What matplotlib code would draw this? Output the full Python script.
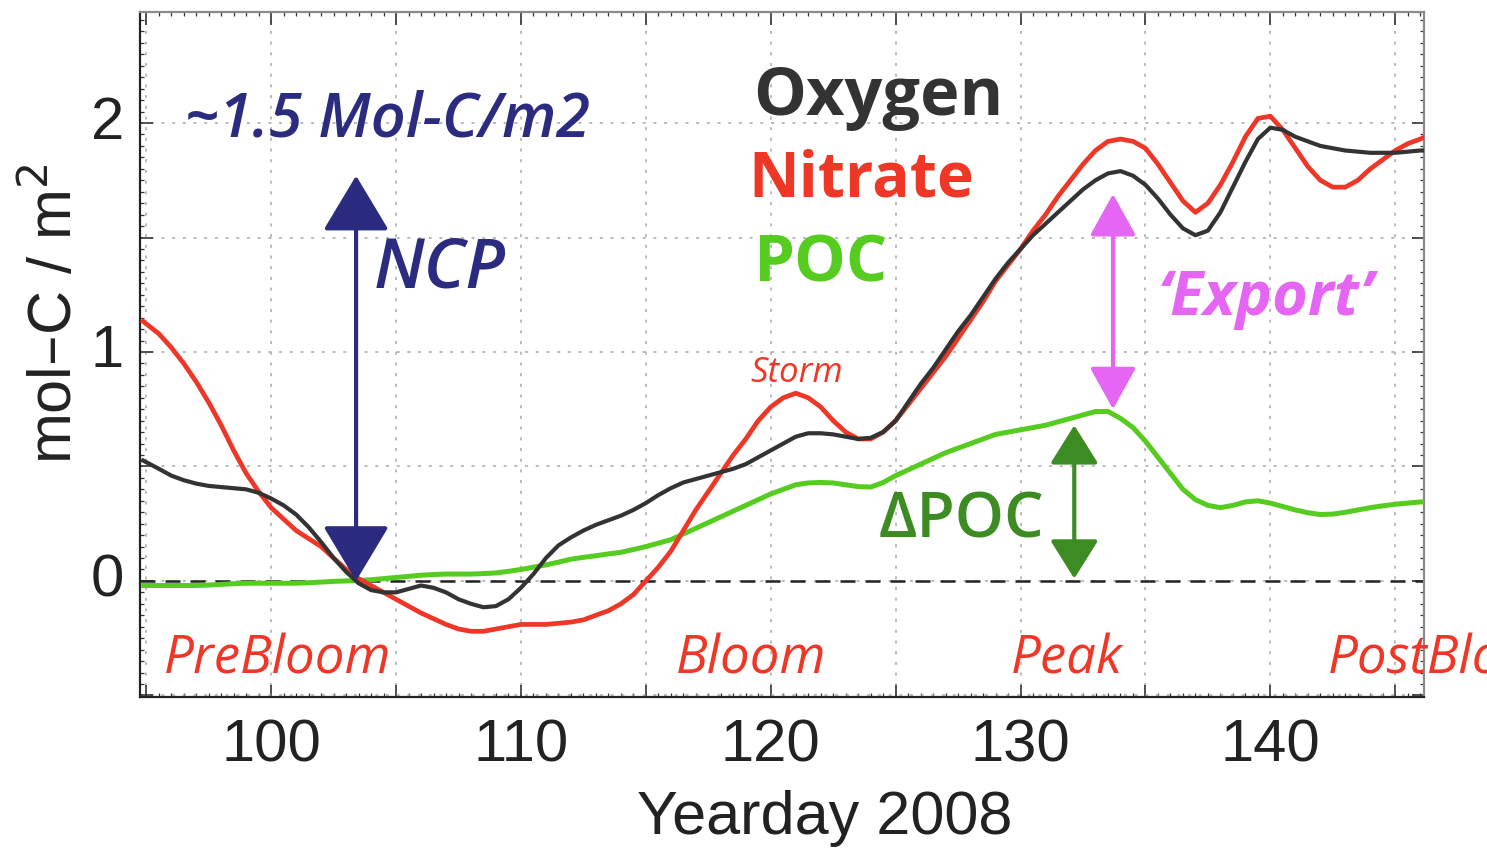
import numpy as np
import matplotlib.pyplot as plt
from matplotlib.ticker import MultipleLocator

# yearday sample points (half-day steps)
days = [94.8] + list(np.arange(95.5, 146.5, 0.5)) + [146.2]

# carbon inventories, mol-C / m2
oxygen = [0.53, 0.49, 0.46, 0.44, 0.425, 0.415, 0.41, 0.405, 0.40, 0.385,
          0.36, 0.33, 0.29, 0.235, 0.17, 0.10, 0.04, -0.01, -0.04, -0.05,
          -0.05, -0.035, -0.02, -0.03, -0.05, -0.08, -0.10, -0.115, -0.11, -0.08,
          -0.03, 0.03, 0.10, 0.155, 0.19, 0.22, 0.245, 0.265, 0.285, 0.31,
          0.34, 0.375, 0.405, 0.43, 0.445, 0.46, 0.475, 0.49, 0.51, 0.54,
          0.57, 0.60, 0.63, 0.645, 0.645, 0.64, 0.63, 0.62, 0.625, 0.65,
          0.70, 0.78, 0.86, 0.93, 1.01, 1.09, 1.16, 1.24, 1.32, 1.39,
          1.45, 1.51, 1.56, 1.61, 1.66, 1.71, 1.75, 1.78, 1.79, 1.77,
          1.73, 1.67, 1.60, 1.54, 1.51, 1.53, 1.61, 1.72, 1.83, 1.93,
          1.98, 1.97, 1.94, 1.92, 1.90, 1.89, 1.88, 1.875, 1.87, 1.87,
          1.87, 1.875, 1.88, 1.88]
nitrate = [1.14, 1.08, 1.02, 0.95, 0.87, 0.78, 0.68, 0.57, 0.47, 0.39,
           0.32, 0.27, 0.22, 0.185, 0.15, 0.10, 0.05, 0.01, -0.02, -0.05,
           -0.08, -0.11, -0.14, -0.165, -0.19, -0.21, -0.22, -0.22, -0.21, -0.20,
           -0.19, -0.19, -0.19, -0.185, -0.18, -0.17, -0.15, -0.13, -0.10, -0.06,
           0.0, 0.06, 0.13, 0.22, 0.31, 0.39, 0.47, 0.55, 0.62, 0.70,
           0.76, 0.80, 0.82, 0.80, 0.76, 0.70, 0.65, 0.62, 0.62, 0.65,
           0.70, 0.77, 0.84, 0.91, 0.98, 1.06, 1.14, 1.22, 1.31, 1.38,
           1.45, 1.53, 1.60, 1.68, 1.75, 1.82, 1.88, 1.92, 1.93, 1.92,
           1.89, 1.82, 1.74, 1.66, 1.61, 1.65, 1.73, 1.83, 1.94, 2.02,
           2.03, 1.97, 1.89, 1.81, 1.75, 1.72, 1.72, 1.75, 1.80, 1.84,
           1.88, 1.91, 1.93, 1.94]
poc = [-0.02, -0.02, -0.02, -0.02, -0.02, -0.018, -0.015, -0.012, -0.01, -0.01,
       -0.01, -0.01, -0.01, -0.008, -0.005, -0.002, 0.0, 0.002, 0.005, 0.01,
       0.015, 0.02, 0.025, 0.028, 0.03, 0.03, 0.03, 0.032, 0.035, 0.042,
       0.05, 0.06, 0.07, 0.082, 0.095, 0.103, 0.11, 0.118, 0.125, 0.137,
       0.15, 0.165, 0.18, 0.205, 0.23, 0.255, 0.28, 0.305, 0.33, 0.355,
       0.38, 0.40, 0.42, 0.428, 0.43, 0.428, 0.42, 0.412, 0.41, 0.43,
       0.46, 0.485, 0.51, 0.535, 0.56, 0.58, 0.60, 0.62, 0.64, 0.65,
       0.66, 0.67, 0.68, 0.695, 0.71, 0.725, 0.74, 0.74, 0.71, 0.67,
       0.61, 0.54, 0.47, 0.40, 0.355, 0.33, 0.32, 0.33, 0.345, 0.35,
       0.34, 0.325, 0.31, 0.298, 0.29, 0.292, 0.30, 0.31, 0.32, 0.328,
       0.335, 0.34, 0.345, 0.345]

# arrows: (day, bottom, top)
ncp_arrow = (103.4, 0.0, 1.77)
export_arrow = (133.7, 0.75, 1.69)
dpoc_arrow = (132.15, 0.01, 0.68)

phases = ['PreBloom', 'Bloom', 'Peak', 'PostBloom']
phase_x = [95.7, 116.2, 129.6, 142.3]

xtick_labels = [100, 110, 120, 130, 140]
ytick_labels = [0, 1, 2]

RED = '#ee3726'
BLACK = '#333333'
GREEN = '#55cc1f'
NAVY = '#2b2b80'
MAGENTA = '#e566f2'
DKGREEN = '#3c8c23'
TXT = ['Open Sans', 'DejaVu Sans']

fig = plt.figure(figsize=(14.87, 8.5), dpi=100)
ax = fig.add_axes([140 / 1487, 153 / 850, 1284 / 1487, 685 / 850])

ax.axhline(0, color='#222222', lw=1.8, dashes=(6, 4), zorder=2)
line_kw = dict(solid_joinstyle='round', solid_capstyle='butt')
ax.plot(days, poc, color=GREEN, lw=3.6, zorder=3, **line_kw)
ax.plot(days, oxygen, color=BLACK, lw=3.0, zorder=4, **line_kw)
ax.plot(days, nitrate, color=RED, lw=3.4, zorder=3, **line_kw)

ax.set_xlim(94.75, 146.15)
ax.set_ylim(-0.507, 2.485)

ax.xaxis.set_major_locator(MultipleLocator(5))
ax.xaxis.set_minor_locator(MultipleLocator(0.5))
ax.yaxis.set_major_locator(MultipleLocator(0.5))
ax.yaxis.set_minor_locator(MultipleLocator(0.05))
ax.grid(True, which='major', color='#a8a8a8', lw=1.1, linestyle=(0, (2, 5)))
ax.tick_params(which='both', direction='in', top=True, right=True,
               labelbottom=False, labelleft=False, color='#333333')
ax.tick_params(which='major', length=9, width=1.2)
ax.tick_params(which='minor', length=3, width=0.9)
for side in ['left', 'bottom']:
    ax.spines[side].set_color('#222222')
    ax.spines[side].set_linewidth(1.6)
for side in ['top', 'right']:
    ax.spines[side].set_color('#8a8a8a')
    ax.spines[side].set_linewidth(1.6)

# labelled ticks only every 10 days / every 1 mol
lab = dict(fontsize=43, family='Liberation Sans', color='#222222')
for d in xtick_labels:
    ax.text(d, -0.6, str(d), ha='center', va='top', **lab)
for v in ytick_labels:
    ax.text(94.1, v, str(v), ha='right', va='center', **lab)

ax.text(0.533, -0.177, 'Yearday 2008', transform=ax.transAxes, ha='center', va='center',
        fontsize=44, family='Liberation Sans', color='#222222')
ax.text(-0.066, 0.56, 'mol\u2013C / m$^2$', transform=ax.transAxes, ha='center', va='center',
        rotation=90, fontsize=44, family='Liberation Sans', color='#222222')


def double_arrow(x, y0, y1, color, lw, hw, hl):
    ax.annotate('', xy=(x, y1), xytext=(x, y0),
                arrowprops=dict(arrowstyle=f'<|-|>,head_width={hw},head_length={hl}',
                                color=color, lw=lw, shrinkA=0, shrinkB=0,
                                mutation_scale=20), zorder=6)


double_arrow(*ncp_arrow, NAVY, 3.0, 1.05, 1.75)
double_arrow(*export_arrow, MAGENTA, 3.0, 0.72, 1.3)
double_arrow(*dpoc_arrow, DKGREEN, 3.0, 0.75, 1.2)

ax.text(96.55, 2.01, '~1.5 Mol-C/m2', color=NAVY, fontsize=44, style='italic',
        weight='semibold', family=TXT, ha='left', va='center')
ax.text(104.1, 1.36, 'NCP', color=NAVY, fontsize=50, style='italic',
        weight='semibold', family=TXT, ha='left', va='center')
ax.text(119.3, 2.11, 'Oxygen', color=BLACK, fontsize=48, weight='bold',
        family=TXT, ha='left', va='center')
ax.text(119.1, 1.75, 'Nitrate', color=RED, fontsize=45, weight='bold',
        family=TXT, ha='left', va='center')
ax.text(119.3, 1.38, 'POC', color=GREEN, fontsize=47, weight='bold',
        family=TXT, ha='left', va='center')
ax.text(119.2, 0.91, 'Storm', color=RED, fontsize=25, style='italic',
        family=TXT, ha='left', va='center')
ax.text(135.5, 1.23, '\u2018Export\u2019', color=MAGENTA, fontsize=44, style='italic',
        weight='bold', family=TXT, ha='left', va='center')
ax.text(124.3, 0.26, '\u0394POC', color=DKGREEN, fontsize=45, weight='semibold',
        family=TXT, ha='left', va='center')

for name, x in zip(phases, phase_x):
    ax.text(x, -0.345, name, color=RED, fontsize=38, style='italic',
            family=TXT, ha='left', va='center', clip_on=False)

fig.savefig('out.png', dpi=100)
